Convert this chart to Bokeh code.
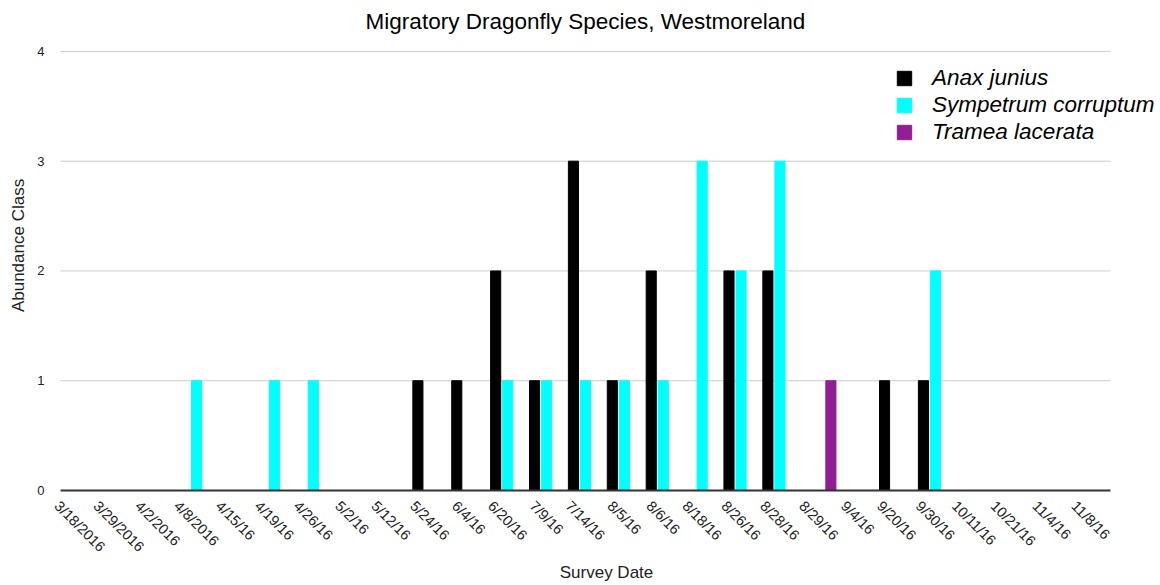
import math
from bokeh.plotting import figure
from bokeh.models import (ColumnDataSource, Range1d, Legend, LegendItem, FixedTicker,
                          CustomJSTickFormatter, Label)
from bokeh.transform import dodge
from bokeh.embed import file_html
from bokeh.resources import INLINE

survey_dates = [
    "3/18/2016", "3/29/2016", "4/2/2016", "4/8/2016", "4/15/16", "4/19/16",
    "4/26/16", "5/2/16", "5/12/16", "5/24/16", "6/4/16", "6/20/16", "7/9/16",
    "7/14/16", "8/5/16", "8/6/16", "8/18/16", "8/26/16", "8/28/16", "8/29/16",
    "9/4/16", "9/20/16", "9/30/16", "10/11/16", "10/21/16", "11/4/16", "11/8/16",
]
anax_junius = [0, 0, 0, 0, 0, 0, 0, 0, 0, 1, 1, 2, 1, 3, 1, 2, 0, 2, 2, 0, 0, 1, 1, 0, 0, 0, 0]
sympetrum_corruptum = [0, 0, 0, 1, 0, 1, 1, 0, 0, 0, 0, 1, 1, 1, 1, 1, 3, 2, 3, 0, 0, 0, 2, 0, 0, 0, 0]
tramea_lacerata = [0, 0, 0, 0, 0, 0, 0, 0, 0, 0, 0, 0, 0, 0, 0, 0, 0, 0, 0, 1, 0, 0, 0, 0, 0, 0, 0]
y_ticks = [0, 1, 2, 3, 4]

TITLE = "Migratory Dragonfly Species, Westmoreland"
FONT = "Liberation Sans"
n_dates = len(survey_dates)
y_max = y_ticks[-1]

# pixel layout: the date slots run from x=60 to x=1110 and the value axis from
# y=491 (0) up to y=51 (4).  The frame itself is larger (left edge at 52, right
# edge and top edge at the page edges) so that the legend and the title, drawn
# inside it, are never clipped.
SLOTS_LEFT, SLOTS_RIGHT, FRAME_LEFT, PAGE_W, PAGE_H = 60, 1110, 52, 1160, 585
AXIS_Y, TOP_Y, TITLE_Y = 491, 51, 21
slot_px = (SLOTS_RIGHT - SLOTS_LEFT) / n_dates
x_start = -(SLOTS_LEFT - FRAME_LEFT) / slot_px
x_end = (PAGE_W - SLOTS_LEFT) / slot_px
unit_px = (AXIS_Y - TOP_Y) / y_max
y_end = AXIS_Y / unit_px

# Rotated date labels are anchored at their start; move each anchor left by half
# the label's horizontal run so the label reads centred under its slot.
DATE_FONT_PX = 14.5


def label_width_px(text):
    # Liberation Sans advance widths: digits 0.556 em, slash 0.278 em
    return sum(0.278 if ch == "/" else 0.556 for ch in text) * DATE_FONT_PX


label_shift = [label_width_px(t) / 2 * math.cos(math.pi / 4) / slot_px for t in survey_dates]
date_ticks = [i + 0.5 - s for i, s in enumerate(label_shift)]

source = ColumnDataSource(dict(
    date=survey_dates,
    pos=[i + 0.5 for i in range(n_dates)],
    anax=anax_junius,
    sympetrum=sympetrum_corruptum,
    tramea=tramea_lacerata,
))

p = figure(
    width=PAGE_W, height=PAGE_H,
    x_range=Range1d(x_start, x_end),
    y_range=Range1d(0, y_end),
    output_backend="svg", toolbar_location=None,
    min_border_left=FRAME_LEFT, min_border_right=0,
    min_border_top=0, min_border_bottom=PAGE_H - AXIS_Y,
)
p.outline_line_color = None

# horizontal grid lines spanning only the date slots
p.xgrid.grid_line_color = None
p.ygrid.grid_line_color = None
p.segment(x0=0, x1=n_dates, y0=y_ticks[1:], y1=y_ticks[1:],
          line_color="#cccccc", line_width=1, level="underlay")

bar_w = 0.26
r_anax = p.vbar(x=dodge("pos", -0.31), top="anax", width=bar_w,
                source=source, color="#000000")
r_symp = p.vbar(x=dodge("pos", 0.0), top="sympetrum", width=bar_w,
                source=source, color="#00ffff")
r_tram = p.vbar(x=dodge("pos", 0.31), top="tramea", width=bar_w,
                source=source, color="#911e94")

# chart title, centred over the date slots
p.add_layout(Label(
    x=n_dates / 2, y=y_end - TITLE_Y / unit_px, text=TITLE,
    text_align="center", text_baseline="middle",
    text_font=FONT, text_font_size="22.5px", text_color="#000000",
))

# y axis
p.yaxis.ticker = FixedTicker(ticks=y_ticks)
p.yaxis.axis_line_color = None
p.yaxis.major_tick_line_color = None
p.yaxis.minor_tick_line_color = None
p.yaxis.major_label_text_font = FONT
p.yaxis.major_label_text_font_size = "13px"
p.yaxis.major_label_text_color = "#222222"
p.yaxis.major_label_standoff = 2
p.yaxis.axis_label = "Abundance Class"
p.yaxis.axis_label_text_font = FONT
p.yaxis.axis_label_text_font_size = "17px"
p.yaxis.axis_label_text_font_style = "normal"
p.yaxis.axis_label_text_color = "#222222"
p.yaxis.axis_label_standoff = 6

# x axis
p.xaxis.bounds = (0, n_dates)
p.xaxis.ticker = FixedTicker(ticks=date_ticks)
p.xaxis.formatter = CustomJSTickFormatter(
    args=dict(labels=survey_dates),
    code="const i = Math.round(tick); return labels[i] ?? '';",
)
p.xaxis.axis_line_color = "#333333"
p.xaxis.axis_line_width = 2
p.xaxis.major_tick_line_color = None
p.xaxis.minor_tick_line_color = None
p.xaxis.major_label_orientation = -math.pi / 4
p.xaxis.major_label_text_font = FONT
p.xaxis.major_label_text_font_size = f"{DATE_FONT_PX}px"
p.xaxis.major_label_text_color = "#222222"
p.xaxis.major_label_standoff = 7
p.xaxis.axis_label = "Survey Date"
p.xaxis.axis_label_text_font = FONT
p.xaxis.axis_label_text_font_size = "17px"
p.xaxis.axis_label_text_font_style = "normal"
p.xaxis.axis_label_text_color = "#222222"
p.xaxis.axis_label_standoff = 0

legend = Legend(items=[
    LegendItem(label="Anax junius", renderers=[r_anax]),
    LegendItem(label="Sympetrum corruptum", renderers=[r_symp]),
    LegendItem(label="Tramea lacerata", renderers=[r_tram]),
], location=(843, 345))
legend.label_text_font = FONT
legend.label_text_font_style = "italic"
legend.label_text_font_size = "22.5px"
legend.label_text_color = "#000000"
legend.glyph_width = 18
legend.glyph_height = 18
legend.label_height = 18
legend.spacing = 1
legend.padding = 0
legend.margin = 0
legend.label_standoff = 19
legend.border_line_color = None
legend.background_fill_alpha = 0
p.add_layout(legend, "center")

open("out.html", "w").write(file_html(p, INLINE))
